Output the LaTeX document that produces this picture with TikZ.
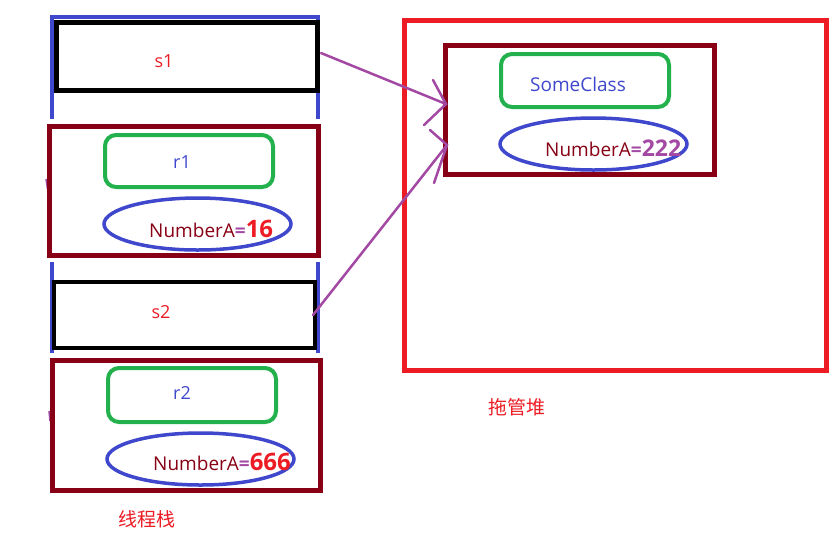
\documentclass[tikz,border=0pt]{standalone}
\usepackage{fontspec}
\setmainfont{Open Sans}
\newfontfamily\cjk{Noto Sans CJK SC}
\usetikzlibrary{shapes.geometric}
\definecolor{pred}{HTML}{ED1C24}
\definecolor{dred}{HTML}{880015}
\definecolor{pgreen}{HTML}{22B14C}
\definecolor{pblue}{HTML}{3F48CC}
\definecolor{ppl}{HTML}{A349A4}
\begin{document}
\begin{tikzpicture}[x=1pt,y=-1pt,
  stk/.style={draw=pblue,line width=4pt},
  varbox/.style={draw=black,line width=5pt,inner sep=0pt,rectangle},
  objbox/.style={draw=dred,line width=5pt,inner sep=0pt,rectangle},
  typebox/.style={draw=pgreen,line width=4pt,inner sep=0pt,rectangle,rounded corners=11pt,minimum width=168pt},
  fieldell/.style={draw=pblue,line width=3.5pt,inner sep=0pt,ellipse,minimum width=187pt,minimum height=52pt},
  heapbox/.style={draw=pred,line width=5pt,inner sep=0pt,rectangle},
  ptr/.style={draw=ppl,line width=2.5pt,line cap=round},
  lbl/.style={inner sep=0pt,font=\fontsize{18}{20}\selectfont},
  fld/.style={inner sep=0pt,anchor=base west,font=\fontsize{19}{22}\selectfont},
  captxt/.style={inner sep=0pt,text=pred,font=\cjk\fontsize{19}{22}\selectfont}
]
\useasboundingbox (0,0) rectangle (840,550);
\fill[white] (0,0) rectangle (840,550);

% stack outline (blue)
\draw[stk,line join=miter] (52,119) -- (52,17) -- (318,17) -- (318,119);
\draw[stk] (52,262) -- (52,353);
\draw[stk] (318,262) -- (318,353);

% small purple marks
\draw[draw=ppl,line width=1.5pt] (46,179) -- (47.5,189);
\draw[draw=ppl,line width=1.5pt] (49,411) -- (50,421);

% stack variables
\node[varbox,minimum width=261pt,minimum height=68pt] (s1) at (187,56.5) {};
\node[lbl,text=pred] (s1t) at (164,61) {s1};
\node[objbox,minimum width=269pt,minimum height=129pt] (r1) at (184,191) {};
\node[typebox,minimum height=52pt] (g1) at (189,161) {};
\node[lbl,text=pblue] (r1t) at (182,162) {r1};
\node[fieldell] (e1) at (197.5,224) {};
\node[fld] (n1) at (149,237) {\textcolor{dred}{NumberA}\textcolor{ppl}{\bfseries=}\textcolor{pred}{\fontsize{24}{24}\selectfont\bfseries 16}};

\node[varbox,line width=4pt,minimum width=260.5pt,minimum height=66pt] (s2) at (184.25,315) {};
\node[lbl,text=pred] (s2t) at (161,312) {s2};
\node[objbox,minimum width=268pt,minimum height=130pt] (r2) at (186.5,425.5) {};
\node[typebox,minimum height=54pt] (g2) at (192,395) {};
\node[lbl,text=pblue] (r2t) at (182,393) {r2};
\node[fieldell] (e2) at (200.5,459) {};
\node[fld] (n2) at (153,470) {\textcolor{dred}{NumberA}\textcolor{ppl}{\bfseries=}\textcolor{pred}{\fontsize{24}{24}\selectfont\bfseries 666}};

\node[captxt] (stackcap) at (147,519) {线程栈};

% heap
\node[heapbox,minimum width=422pt,minimum height=350pt] (heap) at (615.5,195.5) {};
\node[objbox,minimum width=268.5pt,minimum height=129pt] (obj) at (579.75,110) {};
\node[typebox,minimum height=53pt] (g3) at (585,80.5) {};
\node[inner sep=0pt,text=pblue,font=\fontsize{19}{22}\selectfont] (sct) at (578,84) {SomeClass};
\node[fieldell] (e3) at (593.5,144) {};
\node[fld] (n3) at (545,156) {\textcolor{dred}{NumberA}\textcolor{ppl}{\bfseries=\fontsize{23}{23}\selectfont 222}};
\node[captxt] (heapcap) at (517,407) {拖管堆};

% pointers
\coordinate (a1s) at (321,53);
\coordinate (a1t) at (446,104);
\coordinate (a1l) at (433,80);
\coordinate (a1r) at (424,125);
\coordinate (a2s) at (313,315);
\coordinate (a2t) at (447,145);
\coordinate (a2l) at (430,130);
\coordinate (a2r) at (434,183);
\draw[ptr] (a1s) -- (a1t);
\draw[ptr] (a1l) -- (a1t) -- (a1r);
\draw[ptr] (a2s) -- (a2t);
\draw[ptr] (a2l) -- (a2t) -- (a2r);
\end{tikzpicture}
\end{document}
